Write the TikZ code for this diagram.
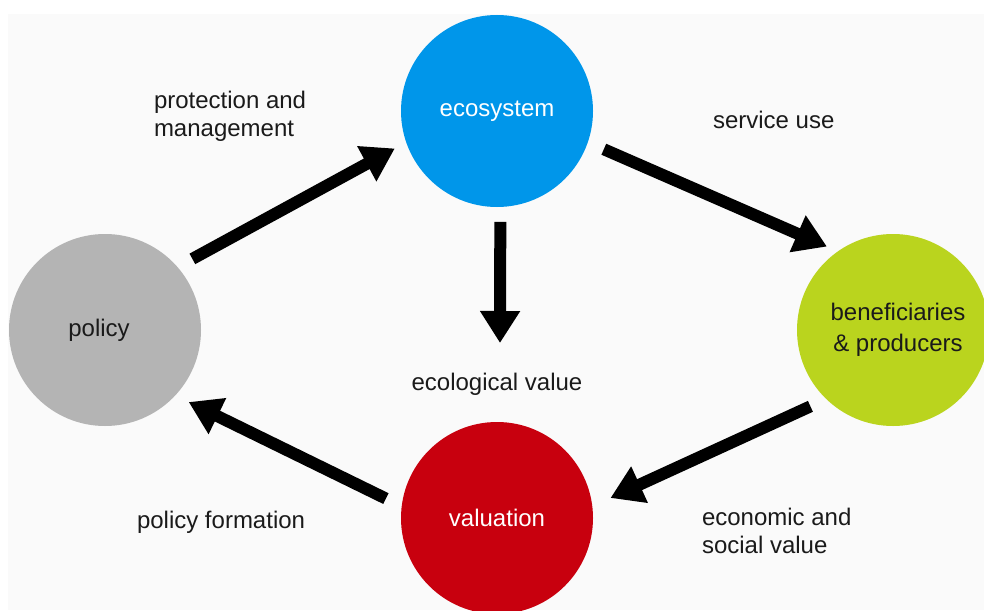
\documentclass[tikz,border=0pt]{standalone}
\usepackage{fontspec}
\setmainfont{Liberation Sans}
\usetikzlibrary{arrows.meta,positioning}
\definecolor{ecoblue}{RGB}{0,150,234}
\definecolor{polgray}{RGB}{180,180,180}
\definecolor{benlime}{RGB}{186,212,30}
\definecolor{valred}{RGB}{200,0,14}
\definecolor{panel}{RGB}{250,250,250}
\definecolor{ink}{RGB}{26,26,26}

\begin{document}
\begin{tikzpicture}[x=1pt,y=-1pt,
    every node/.style={inner sep=0pt,outer sep=0pt,text=ink,
        font=\fontsize{24}{28}\selectfont},
    stage/.style={circle,minimum size=192pt,align=center},
    note/.style={align=left,anchor=base west},
    flow/.style={line width=12pt,-{Triangle[length=32pt,width=38pt]}}]
    \useasboundingbox (0,0) rectangle (984,610);
    \fill [panel] (8,14) rectangle (984,610);

    % the four stages
    \node [stage,fill=ecoblue,text=white] (eco) at (497,111) {ecosystem};
    \node [stage,fill=polgray,text width=180pt] (pol) at (105,330) {\hspace*{-12pt}policy};
    \node [stage,fill=benlime,font=\fontsize{24}{31}\selectfont] (ben) at (893,330) {\hspace*{10pt}beneficiaries\\\hspace*{10pt}\& producers};
    \node [stage,fill=valred,text=white] (val) at (497,518) {valuation};

    % labels (base is the last line)
    \node [note] (protlab) at (154,136) {protection and\\management};
    \node [note] (servlab) at (713,128) {service use};
    \node [anchor=base] (ecolab) at (497,390) {ecological value};
    \node [note] (econlab) at (702,553) {economic and\\social value};
    \node [note] (formlab) at (137,528) {policy formation};
    \coordinate (ecotip) at (500,343);

    % arrows
    \draw [flow,shorten <=17pt,shorten >=13pt] (pol.41.4) -- (eco.199.3);
    \draw [flow,shorten <=17.5pt,shorten >=12pt] (eco.-19.6) -- (ben.125.9);
    \draw [flow,shorten <=15pt] (eco.-88.5) -- (ecotip);
    \draw [flow,shorten <=17.5pt,shorten >=20pt] (ben.226.8) -- (val.7.9);
    \draw [flow,shorten <=17.6pt,shorten >=15pt] (val.173.9) -- (pol.-43.9);
\end{tikzpicture}
\end{document}
